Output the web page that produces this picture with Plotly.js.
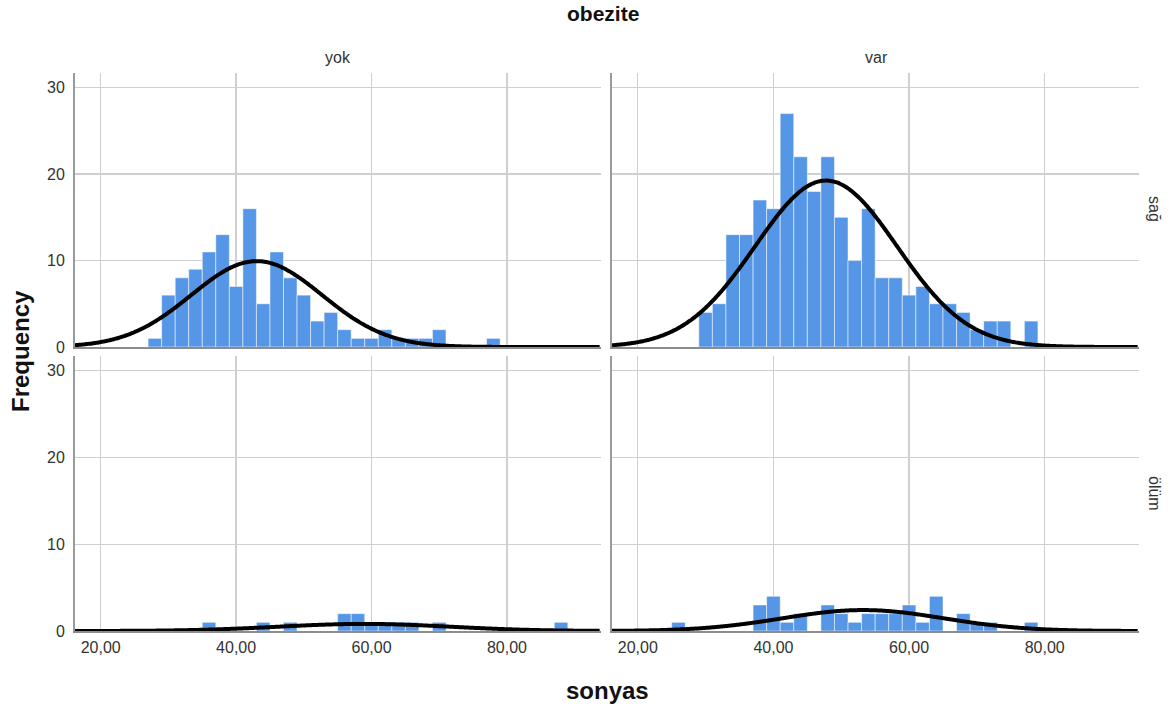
<!DOCTYPE html>
<html><head><meta charset="utf-8">
<script src="https://cdn.plot.ly/plotly-3.0.1.min.js"></script>
<style>html,body{margin:0;padding:0;background:#fff;}#chart{width:1171px;height:708px;}</style>
</head><body><div id="chart"></div>
<script>
// ---- data ----
const binWidth = 2;
const colLabels = ['yok', 'var'];          // obezite
const rowLabels = ['sağ', 'ölüm'];         // row facet
const chartTitle = 'obezite';
const xTitle = 'sonyas';
const yTitle = 'Frequency';

// first bin lower edge and counts per 2-unit bin
const sagYokStart = 27;
const sagYokCounts = [1,6,8,9,11,13,7,16,5,11,8,6,3,4,2,1,1,2,1,1,1,2,0,0,0,1];
const sagVarStart = 29;
const sagVarCounts = [4,5,13,13,17,16,27,22,18,22,15,10,16,8,8,6,7,5,5,4,2,3,3,0,3];
const olumYokStart = 35;
const olumYokCounts = [1,0,0,0,1,0,1,0,0,0,2,2,1,1,1,1,0,1,0,0,0,0,0,0,0,0,1];
const olumVarStart = 25;
const olumVarCounts = [1,0,0,0,0,0,3,4,1,2,0,3,2,1,2,2,2,3,1,4,0,2,1,1,0,0,1];

const xTickVals = [20, 40, 60, 80];
const xTickText = ['20,00', '40,00', '60,00', '80,00'];
const yTickVals = [0, 10, 20, 30];
const yTickText = ['0', '10', '20', '30'];

// ---- drawing ----
const xRange = [16.2, 93.9];
const yRange = [0, 31.7];
const barColor = '#5596e6';
const FONT = 'Liberation Sans, Arial, sans-serif';

function mids(start, counts) { return counts.map((c, i) => start + i * binWidth + binWidth / 2); }

// normal curve fitted to the histogram (mean / sd of the binned values), scaled to counts
function normalFit(start, counts) {
  const m = mids(start, counts);
  const n = counts.reduce((a, b) => a + b, 0);
  const mean = counts.reduce((a, c, i) => a + c * m[i], 0) / n;
  const v = counts.reduce((a, c, i) => a + c * (m[i] - mean) ** 2, 0) / (n - 1);
  const sd = Math.sqrt(v);
  const xs = [], ys = [];
  for (let x = xRange[0]; x <= xRange[1] + 1e-9; x += 0.25) {
    xs.push(x);
    ys.push(n * binWidth / (sd * Math.sqrt(2 * Math.PI)) * Math.exp(-0.5 * ((x - mean) / sd) ** 2));
  }
  return { xs, ys };
}

const panels = [
  { start: sagYokStart, counts: sagYokCounts, xa: 'x', ya: 'y' },
  { start: sagVarStart, counts: sagVarCounts, xa: 'x2', ya: 'y2' },
  { start: olumYokStart, counts: olumYokCounts, xa: 'x3', ya: 'y3' },
  { start: olumVarStart, counts: olumVarCounts, xa: 'x4', ya: 'y4' }
];

const traces = [];
panels.forEach(p => {
  traces.push({
    type: 'bar', x: mids(p.start, p.counts), y: p.counts, width: binWidth,
    xaxis: p.xa, yaxis: p.ya,
    marker: { color: barColor, line: { color: 'rgba(255,255,255,0.5)', width: 1 } },
    hoverinfo: 'x+y', showlegend: false
  });
  const f = normalFit(p.start, p.counts);
  traces.push({
    type: 'scatter', mode: 'lines', x: f.xs, y: f.ys, xaxis: p.xa, yaxis: p.ya,
    line: { color: '#000', width: 4, shape: 'spline' }, hoverinfo: 'skip', showlegend: false
  });
});

const W = 1171, H = 708;
const colDom = [[75 / W, 601 / W], [612 / W, 1139 / W]];
const rowDom = [[1 - 347 / H, 1 - 73 / H], [1 - 631 / H, 1 - 356 / H]];

function xa(col, row, anchor) {
  return {
    domain: colDom[col], anchor: anchor, range: xRange, tickvals: xTickVals, ticktext: xTickText,
    showticklabels: row === 1, ticks: '', ticklabelstandoff: 1,
    showgrid: true, gridcolor: '#cfcfcf', gridwidth: 1.3,
    showline: true, linecolor: '#8c8c8c', linewidth: 2, zeroline: false,
    tickfont: { family: FONT, size: 16, color: '#333' }, fixedrange: true
  };
}
function ya(col, row, anchor) {
  return {
    domain: rowDom[row], anchor: anchor, range: yRange, tickvals: yTickVals, ticktext: yTickText,
    showticklabels: col === 0, ticks: '', ticklabelstandoff: 5,
    showgrid: true, gridcolor: '#cfcfcf', gridwidth: 1.3,
    showline: true, linecolor: '#9a9a9a', linewidth: 2, zeroline: false,
    tickfont: { family: FONT, size: 16, color: '#333' }, fixedrange: true
  };
}

function ann(text, px, py, size, angle) {
  return {
    text: text, x: px / W, y: 1 - py / H, xref: 'paper', yref: 'paper',
    xanchor: 'center', yanchor: 'middle', showarrow: false, textangle: angle || 0,
    font: { size: size, family: FONT, color: size > 18 ? '#111' : '#333' }
  };
}

const layout = {
  width: W, height: H, margin: { l: 0, r: 0, t: 0, b: 0 },
  paper_bgcolor: '#fff', plot_bgcolor: '#fff', bargap: 0,
  font: { family: FONT, color: '#222' },
  xaxis: xa(0, 0, 'y'), yaxis: ya(0, 0, 'x'),
  xaxis2: xa(1, 0, 'y2'), yaxis2: ya(1, 0, 'x2'),
  xaxis3: xa(0, 1, 'y3'), yaxis3: ya(0, 1, 'x3'),
  xaxis4: xa(1, 1, 'y4'), yaxis4: ya(1, 1, 'x4'),
  annotations: [
    ann('<b>' + chartTitle + '</b>', 603, 13, 21),
    ann(colLabels[0], 338, 57, 16),
    ann(colLabels[1], 876, 57, 16),
    ann(rowLabels[0], 1155, 209, 16, 90),
    ann(rowLabels[1], 1155, 493, 16, 90),
    ann('<b>' + yTitle + '</b>', 20, 351, 24, -90),
    ann('<b>' + xTitle + '</b>', 607, 690, 24)
  ]
};

Plotly.newPlot('chart', traces, layout, { displayModeBar: false, staticPlot: true });
</script>
</body></html>
